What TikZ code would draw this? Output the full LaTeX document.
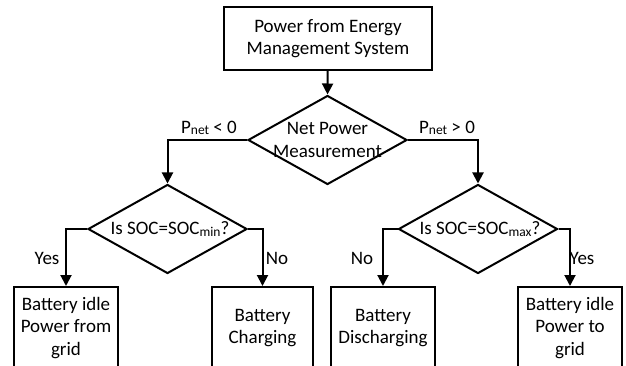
\documentclass[tikz,border=0pt]{standalone}
\usepackage{fontspec}
\setmainfont{Carlito}
\usetikzlibrary{shapes.geometric,arrows.meta}
\newcommand{\lowsub}[1]{\raisebox{-1.5pt}{\fontsize{13.5}{13.5}\selectfont #1}}
\begin{document}
\begin{tikzpicture}[x=1pt,y=-1pt,
  every node/.style={font=\fontsize{19}{22.5}\selectfont},
  box/.style={draw, line width=2pt, align=center, inner sep=0pt},
  dia/.style={draw, diamond, line width=2pt, inner sep=0pt, minimum width=159pt, minimum height=89pt},
  lbl/.style={align=center, inner sep=0pt},
  arr/.style={line width=2pt, -{Triangle[length=11pt,width=11pt]}},
  ]
\useasboundingbox (0,0) rectangle (626,366);
\clip (0,0) rectangle (626,366);
\node[box, minimum width=208pt, minimum height=63pt] (top) at (328,38.5) {Power from Energy\\Management System};
\node[dia] (d1) at (327.5,140) {};
\node[lbl] (d1t) at (327.5,140) {Net Power\\Measurement};
\node[dia] (d2) at (167.5,229) {};
\node[lbl] (d2t) at (170,229) {Is SOC=SOC\lowsub{min}?};
\node[dia] (d3) at (478,229) {};
\node[lbl] (d3t) at (480,229) {Is SOC=SOC\lowsub{max}?};
\node[box, minimum width=104pt, minimum height=82pt] (b1) at (66,328) {Battery idle\\Power from\\grid};
\node[box, minimum width=101pt, minimum height=82pt] (b2) at (262.5,328) {Battery\\Charging};
\node[box, minimum width=104pt, minimum height=82pt] (b3) at (383,328) {Battery\\Discharging};
\node[box, minimum width=104pt, minimum height=82pt] (b4) at (570,328) {Battery idle\\Power to\\grid};
\draw[arr] (top) -- (d1.north);
\draw[arr] (d1.west) -| (d2.north);
\draw[arr] (d1.east) -| (d3.north);
\draw[arr] (d2.west) -| (b1.north);
\draw[arr] (d2.east) -| (b2.north);
\draw[arr] (d3.west) -| (b3.north);
\draw[arr] (d3.east) -| (b4.north);
\node[lbl] (l1) at (209,128) {P\lowsub{net} < 0};
\node[lbl] (l2) at (447,128) {P\lowsub{net} > 0};
\node[lbl] (l3) at (47,258) {Yes};
\node[lbl] (l4) at (277,258) {No};
\node[lbl] (l5) at (362,258) {No};
\node[lbl] (l6) at (582,258) {Yes};
\end{tikzpicture}
\end{document}
